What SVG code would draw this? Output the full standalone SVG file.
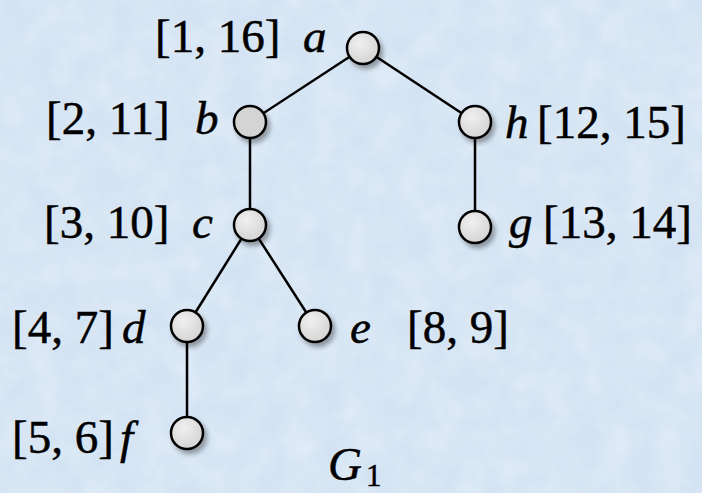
<svg xmlns="http://www.w3.org/2000/svg" width="702" height="493" viewBox="0 0 702 493">
<defs>
<filter id="noise" x="0" y="0" width="100%" height="100%">
<feTurbulence type="fractalNoise" baseFrequency="0.035" numOctaves="3" seed="4" result="t"/>
<feColorMatrix type="matrix" values="0 0 0 0 1  0 0 0 0 1  0 0 0 0 1  0 0 0 0.45 -0.12" in="t"/>
</filter>
<radialGradient id="nodeFill" cx="0.4" cy="0.35" r="0.7">
<stop offset="0" stop-color="#f0f0f0"/>
<stop offset="1" stop-color="#d2d2d2"/>
</radialGradient>
<filter id="shadow" x="-50%" y="-50%" width="200%" height="200%">
<feGaussianBlur in="SourceAlpha" stdDeviation="2.5"/>
<feOffset dx="3" dy="4" result="b"/>
<feComponentTransfer><feFuncA type="linear" slope="0.35"/></feComponentTransfer>
<feMerge><feMergeNode/><feMergeNode in="SourceGraphic"/></feMerge>
</filter>
</defs>
<style>
.lbl{font-family:"Liberation Serif","Times New Roman",serif;font-size:47px;fill:#000;stroke:#000;stroke-width:0.5}
.it{font-style:italic}
.node{fill:url(#nodeFill);stroke:#000;stroke-width:2.5;filter:url(#shadow)}
.edge{stroke:#000;stroke-width:2.5;fill:none}
</style>
<rect width="702" height="493" fill="#d3e3f3"/>
<rect width="702" height="493" filter="url(#noise)"/>
<g id="edges">
<line class="edge" x1="363" y1="48" x2="250" y2="122"/>
<line class="edge" x1="363" y1="48" x2="475" y2="122"/>
<line class="edge" x1="250" y1="122" x2="250" y2="225"/>
<line class="edge" x1="475" y1="122" x2="475" y2="227"/>
<line class="edge" x1="250" y1="225" x2="187" y2="326"/>
<line class="edge" x1="250" y1="225" x2="315" y2="326"/>
<line class="edge" x1="187" y1="326" x2="187" y2="433"/>
</g>
<g id="a"><circle class="node" cx="363" cy="48" r="16"/><text class="lbl" x="155" y="52">[1, 16]</text><text class="lbl it" x="303" y="52">a</text></g>
<g id="b"><circle class="node" cx="250" cy="122" r="16" style="fill:#d4d4d4"/><text class="lbl" x="46" y="134">[2, 11]</text><text class="lbl it" x="195" y="134">b</text></g>
<g id="h"><circle class="node" cx="475" cy="122" r="16"/><text class="lbl it" x="505" y="138">h</text><text class="lbl" x="537" y="138">[12, 15]</text></g>
<g id="c"><circle class="node" cx="250" cy="225" r="16"/><text class="lbl" x="44" y="238">[3, 10]</text><text class="lbl it" x="192" y="238">c</text></g>
<g id="g"><circle class="node" cx="475" cy="227" r="16"/><text class="lbl it" x="509" y="238">g</text><text class="lbl" x="543" y="238">[13, 14]</text></g>
<g id="d"><circle class="node" cx="187" cy="326" r="16"/><text class="lbl" x="12" y="343">[4, 7]</text><text class="lbl it" x="122" y="343">d</text></g>
<g id="e"><circle class="node" cx="315" cy="326" r="16"/><text class="lbl it" x="350" y="343">e</text><text class="lbl" x="407" y="343">[8, 9]</text></g>
<g id="f"><circle class="node" cx="187" cy="433" r="16"/><text class="lbl" x="12" y="453">[5, 6]</text><text class="lbl it" x="120" y="453">f</text></g>
<g id="G1"><text class="lbl it" x="328" y="480">G</text><text class="lbl" x="366" y="486" style="font-size:31px">1</text></g>
</svg>
